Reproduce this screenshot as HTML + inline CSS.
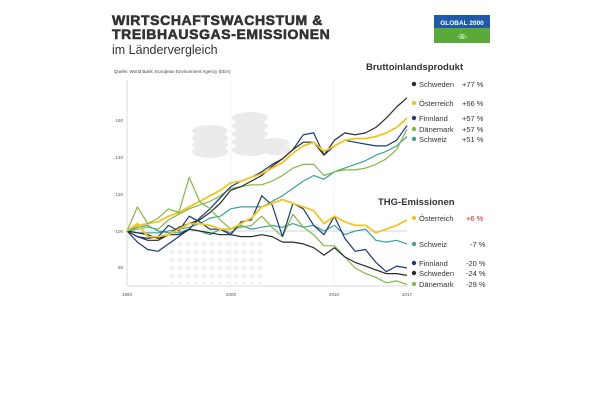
<!DOCTYPE html><html><head><meta charset="utf-8"><style>
body{margin:0;background:#fff;width:600px;height:400px;overflow:hidden;font-family:"Liberation Sans",sans-serif}
</style></head><body>
<svg width="600" height="400" viewBox="0 0 600 400" xmlns="http://www.w3.org/2000/svg" font-family="Liberation Sans, sans-serif">
<defs><pattern id="dots" width="8" height="8" patternUnits="userSpaceOnUse"><circle cx="4" cy="4" r="2.2" fill="#f0f0f0"/></pattern></defs>
<text x="112" y="25" font-size="14" font-weight="900" fill="#333" letter-spacing="0.6" stroke="#333" stroke-width="0.6">WIRTSCHAFTSWACHSTUM &amp;</text>
<text x="112" y="39" font-size="14" font-weight="900" fill="#333" letter-spacing="0.6" stroke="#333" stroke-width="0.6">TREIBHAUSGAS-EMISSIONEN</text>
<text x="112" y="54" font-size="12.5" fill="#333">im Ländervergleich</text>
<rect x="434" y="15" width="56" height="13" fill="#1e5aa8"/>
<rect x="434" y="28" width="56" height="15" fill="#5aaa3a"/>
<text x="462" y="25" font-size="6.5" font-weight="bold" fill="#fff" text-anchor="middle">GLOBAL 2000</text>
<text x="462" y="39" font-size="7" fill="#fff" text-anchor="middle">-ꕤ-</text>
<text x="114" y="73" font-size="4.5" fill="#444">Quelle: World Bank, European Environment Agency (EEA)</text>
<g fill="#ebebeb">
<ellipse cx="210" cy="152" rx="18" ry="6"/><ellipse cx="210" cy="145" rx="18" ry="6"/><ellipse cx="210" cy="138" rx="18" ry="6"/><ellipse cx="210" cy="131" rx="18" ry="6"/>
<ellipse cx="250" cy="150" rx="18" ry="6"/><ellipse cx="250" cy="142" rx="18" ry="6"/><ellipse cx="250" cy="134" rx="18" ry="6"/><ellipse cx="250" cy="126" rx="18" ry="6"/><ellipse cx="250" cy="118" rx="18" ry="6"/>
<ellipse cx="275" cy="150" rx="15" ry="5"/><ellipse cx="275" cy="143" rx="15" ry="5"/>
</g>
<rect x="168" y="238" width="95" height="46" fill="url(#dots)"/>
<line x1="127" y1="80" x2="127" y2="286" stroke="#ccc" stroke-width="0.7"/>
<line x1="231" y1="80" x2="231" y2="286" stroke="#eee" stroke-width="0.7"/>
<line x1="334" y1="80" x2="334" y2="286" stroke="#eee" stroke-width="0.7"/>
<line x1="127" y1="286" x2="407" y2="286" stroke="#ccc" stroke-width="0.7"/>
<line x1="127" y1="231" x2="407" y2="231" stroke="#b8c8e8" stroke-width="0.8"/>
<g font-size="4.5" fill="#555" text-anchor="end">
<text x="123" y="122">160</text><text x="123" y="159">140</text><text x="123" y="196">120</text><text x="123" y="233">100</text><text x="123" y="269">80</text></g>
<g font-size="4.5" fill="#555" text-anchor="middle">
<text x="127" y="296">1990</text><text x="231" y="296">2000</text><text x="334" y="296">2010</text><text x="407" y="296">2017</text></g>
<g id="lines" fill="none" stroke-width="1.3" stroke-linejoin="round"></g>
<g font-size="7.5" fill="#333">
<text x="366" y="70" font-size="9.5" font-weight="bold">Bruttoinlandsprodukt</text>
<circle cx="414" cy="84" r="2.2" fill="#2a2a2a"/><text x="419" y="87">Schweden</text><text x="462" y="87">+77 %</text>
<circle cx="414" cy="103" r="2.2" fill="#f4c51f"/><text x="419" y="106">Österreich</text><text x="462" y="106">+66 %</text>
<circle cx="414" cy="118" r="2.2" fill="#1b3a7a"/><text x="419" y="121">Finnland</text><text x="462" y="121">+57 %</text>
<circle cx="414" cy="129" r="2.2" fill="#83b844"/><text x="419" y="132">Dänemark</text><text x="462" y="132">+57 %</text>
<circle cx="414" cy="139" r="2.2" fill="#3aa39a"/><text x="419" y="142">Schweiz</text><text x="462" y="142">+51 %</text>
<text x="378" y="205" font-size="9.5" font-weight="bold">THG-Emissionen</text>
<circle cx="414" cy="218" r="2.2" fill="#f4c51f"/><text x="419" y="221">Österreich</text><text x="466" y="221" fill="#d0202a">+6 %</text>
<circle cx="414" cy="244" r="2.2" fill="#3aa39a"/><text x="419" y="247">Schweiz</text><text x="470" y="247">-7 %</text>
<circle cx="414" cy="263" r="2.2" fill="#1b3a7a"/><text x="419" y="266">Finnland</text><text x="466" y="266">-20 %</text>
<circle cx="414" cy="273" r="2.2" fill="#2a2a2a"/><text x="419" y="276">Schweden</text><text x="466" y="276">-24 %</text>
<circle cx="414" cy="284" r="2.2" fill="#83b844"/><text x="419" y="287">Dänemark</text><text x="466" y="287">-29 %</text>
</g>
</svg>
<script>
const S=[
["#3aa39a",[100,99,99,99,100,101,102,104,107,108,112,113,113,113,116,119,123,127,130,128,132,134,136,138,141,143,146,151]],
["#83b844",[100,101,102,101,106,109,112,114,116,119,123,124,125,125,127,130,134,136,136,130,132,133,133,134,136,139,144,155]],
["#1b3a7a",[100,94,90,89,93,97,101,107,112,118,124,127,129,132,136,139,144,152,153,141,146,149,148,147,146,146,149,157]],
["#2a2a2a",[100,97,95,95,98,102,104,106,110,115,122,124,127,130,135,139,144,148,148,141,149,153,152,153,156,161,167,172]],
["#f4c51f",[100,103,104,105,108,110,113,116,119,122,126,127,129,131,134,137,142,146,148,143,146,149,150,150,151,153,156,161],1.8],
["#3aa39a",[100,102,103,100,99,99,101,100,98,101,99,103,101,102,103,102,104,102,103,100,103,98,100,101,95,94,95,93]],
["#83b844",[100,113,104,107,112,110,129,116,112,106,101,102,103,108,102,97,109,102,98,92,92,86,80,77,75,72,73,71]],
["#2a2a2a",[100,99,98,96,98,98,101,100,99,98,98,97,97,98,97,94,94,93,91,87,91,86,83,81,79,77,77,76]],
["#1b3a7a",[100,97,96,97,103,100,108,105,101,101,98,105,106,119,114,97,115,112,103,98,108,96,89,90,83,78,81,80]],
["#f4c51f",[100,104,97,97,98,101,104,104,103,101,101,104,107,113,115,117,115,113,111,104,108,105,103,103,99,101,103,106],1.8]];
let h="";for(const [c,d,w] of S){h+=`<polyline stroke="${c}" stroke-width="${w||1.2}" points="${d.map((v,i)=>(127+i*10.37).toFixed(1)+","+(231-(v-100)*1.85).toFixed(1)).join(" ")}"/>`;}
document.getElementById("lines").innerHTML=h;
</script>
</body></html>
